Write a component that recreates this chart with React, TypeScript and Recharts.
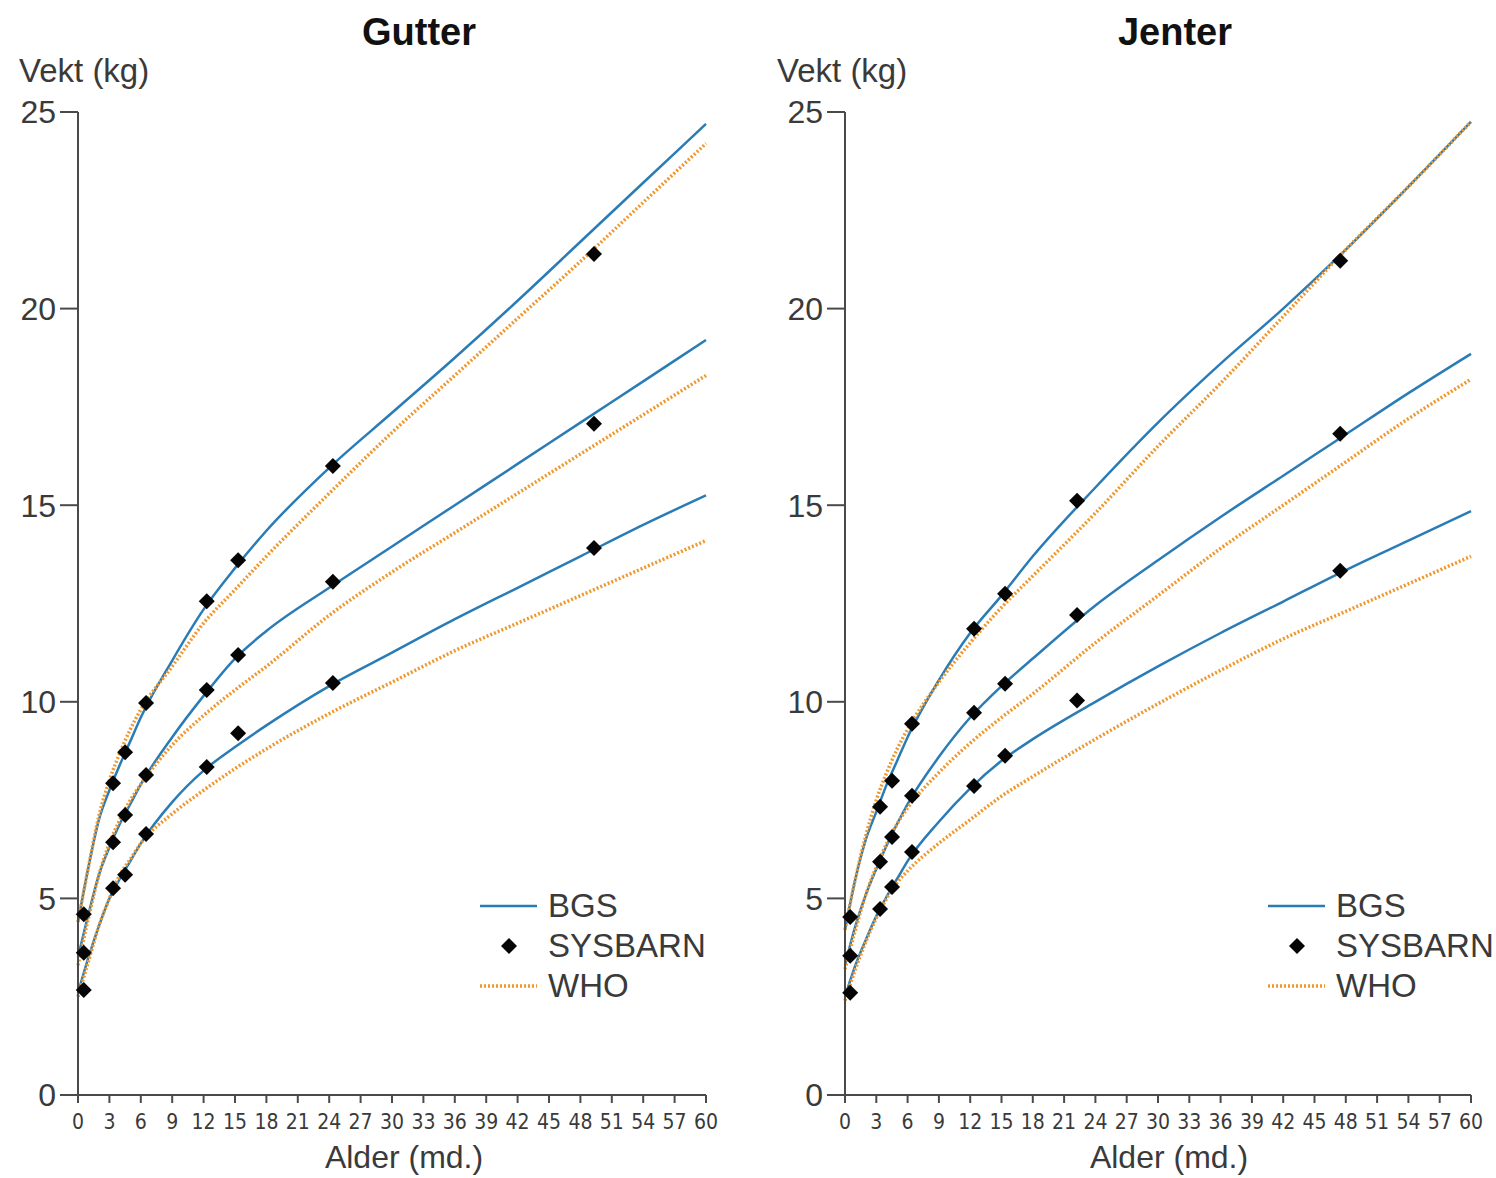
import React from 'react'
import { ComposedChart, Line, Scatter, XAxis, YAxis, Legend } from 'recharts'

const ageTicks = [0, 3, 6, 9, 12, 15, 18, 21, 24, 27, 30, 33, 36, 39, 42, 45, 48, 51, 54, 57, 60]
const weightTicks = [0, 5, 10, 15, 20, 25]

// ages (months) the reference curves are read at
const curveAges = [0, 1, 2, 3, 4, 5, 6, 9, 12, 15, 18, 24, 30, 36, 42, 48, 54, 60]

// Gutter
const boysBgsHigh = [4.4, 5.8, 7.0, 7.75, 8.4, 9.0, 9.6, 11.05, 12.35, 13.4, 14.35, 15.95, 17.35, 18.75, 20.2, 21.7, 23.2, 24.7]
const boysBgsMid = [3.5, 4.6, 5.6, 6.3, 6.9, 7.4, 7.9, 9.1, 10.15, 11.1, 11.8, 12.9, 13.95, 15.0, 16.05, 17.1, 18.15, 19.2]
const boysBgsLow = [2.6, 3.5, 4.3, 5.0, 5.5, 5.95, 6.4, 7.45, 8.25, 8.85, 9.4, 10.4, 11.25, 12.1, 12.9, 13.7, 14.5, 15.25]
const boysWhoHigh = [4.4, 5.8, 7.1, 8.0, 8.7, 9.3, 9.8, 10.9, 12.0, 12.85, 13.7, 15.3, 16.85, 18.3, 19.75, 21.2, 22.7, 24.2]
const boysWhoMid = [3.3, 4.5, 5.6, 6.4, 7.0, 7.5, 7.9, 8.9, 9.65, 10.3, 10.9, 12.2, 13.3, 14.3, 15.3, 16.3, 17.3, 18.3]
const boysWhoLow = [2.5, 3.4, 4.3, 5.0, 5.6, 6.0, 6.4, 7.15, 7.75, 8.3, 8.8, 9.7, 10.5, 11.3, 12.0, 12.7, 13.4, 14.1]

const boysVisitAges = [0.55, 3.35, 4.5, 6.5, 12.3, 15.3, 24.35, 49.3]
const boysSysHigh = [4.6, 7.93, 8.72, 9.97, 12.56, 13.6, 16.0, 21.39]
const boysSysMid = [3.62, 6.43, 7.12, 8.14, 10.3, 11.19, 13.05, 17.07]
const boysSysLow = [2.67, 5.26, 5.6, 6.64, 8.34, 9.2, 10.48, 13.91]

// Jenter
const girlsBgsHigh = [4.2, 5.5, 6.5, 7.2, 7.9, 8.5, 9.1, 10.55, 11.75, 12.7, 13.7, 15.45, 17.1, 18.6, 20.0, 21.5, 23.1, 24.75]
const girlsBgsMid = [3.3, 4.3, 5.1, 5.75, 6.35, 6.9, 7.4, 8.6, 9.6, 10.4, 11.1, 12.45, 13.6, 14.7, 15.75, 16.8, 17.85, 18.85]
const girlsBgsLow = [2.5, 3.3, 3.95, 4.55, 5.05, 5.5, 5.95, 6.95, 7.8, 8.5, 9.05, 10.0, 10.9, 11.75, 12.55, 13.35, 14.1, 14.85]
const girlsWhoHigh = [4.2, 5.5, 6.6, 7.5, 8.2, 8.8, 9.3, 10.5, 11.5, 12.4, 13.2, 14.8, 16.5, 18.1, 19.8, 21.5, 23.1, 24.75]
const girlsWhoMid = [3.2, 4.2, 5.1, 5.8, 6.4, 6.9, 7.3, 8.2, 8.95, 9.6, 10.2, 11.5, 12.7, 13.9, 15.0, 16.1, 17.2, 18.2]
const girlsWhoLow = [2.4, 3.2, 3.9, 4.5, 5.0, 5.4, 5.7, 6.4, 7.0, 7.6, 8.1, 9.05, 9.95, 10.8, 11.6, 12.3, 13.0, 13.7]

const girlsVisitAges = [0.5, 3.36, 4.51, 6.42, 12.37, 15.34, 22.24, 47.46]
const girlsSysHigh = [4.53, 7.33, 7.99, 9.44, 11.86, 12.75, 15.11, 21.22]
const girlsSysMid = [3.54, 5.93, 6.56, 7.61, 9.72, 10.46, 12.21, 16.82]
const girlsSysLow = [2.6, 4.73, 5.29, 6.18, 7.86, 8.63, 10.03, 13.33]

const BLUE = '#2a7cb6'
const ORANGE = '#ee982f'
const AXIS = '#4a4a4a'
const TEXT = '#3a3a3a'
const FONT = '"Liberation Sans", Arial, sans-serif'

const zip = (ages: number[], vals: number[]) => ages.map((m, i) => ({ m, kg: vals[i] }))

function Diamond(props: any) {
  const { cx, cy } = props
  if (cx == null || cy == null) return null
  const r = 8
  return <path d={`M${cx},${cy - r}L${cx + r},${cy}L${cx},${cy + r}L${cx - r},${cy}Z`} fill="#050505" />
}

function LegendBox() {
  const row = { display: 'flex', alignItems: 'center', height: 40 } as const
  const label = { fontSize: 33, color: TEXT, fontFamily: FONT, lineHeight: '40px' }
  return (
    <div>
      <div style={row}>
        <svg width={68} height={12}><line x1={0} y1={6} x2={57} y2={6} stroke={BLUE} strokeWidth={2.5} /></svg>
        <span style={label}>BGS</span>
      </div>
      <div style={row}>
        <svg width={68} height={18}><path d="M29,1L37,9L29,17L21,9Z" fill="#050505" /></svg>
        <span style={label}>SYSBARN</span>
      </div>
      <div style={row}>
        <svg width={68} height={12}><line x1={0} y1={6} x2={57} y2={6} stroke={ORANGE} strokeWidth={3.5} strokeDasharray="2 2" /></svg>
        <span style={label}>WHO</span>
      </div>
    </div>
  )
}

interface PanelProps {
  left: number
  width: number
  plotWidth: number
  bgs: number[][]
  who: number[][]
  visitAges: number[]
  sys: number[][]
  legendLeft: number
}

function Panel({ left, width, plotWidth, bgs, who, visitAges, sys, legendLeft }: PanelProps) {
  return (
    <div style={{ position: 'absolute', left, top: 0 }}>
      <ComposedChart
        width={width}
        height={1178}
        margin={{ top: 112, right: width - 78 - plotWidth, bottom: 43, left: 0 }}
      >
        <XAxis
          type="number"
          dataKey="m"
          domain={[0, 60]}
          ticks={ageTicks}
          interval={0}
          height={40}
          stroke={AXIS}
          strokeWidth={2}
          tickSize={8}
          tickMargin={11}
          tick={{ fontSize: 21, fill: TEXT, fontFamily: '"DejaVu Sans Condensed", "Liberation Sans Narrow", sans-serif' }}
        />
        <YAxis
          type="number"
          dataKey="kg"
          domain={[0, 25]}
          ticks={weightTicks}
          interval={0}
          width={78}
          stroke={AXIS}
          strokeWidth={2}
          tickSize={18}
          tickMargin={4}
          tick={{ fontSize: 32, fill: TEXT, fontFamily: FONT }}
        />
        {bgs.map((vals, i) => (
          <Line
            key={`bgs${i}`}
            data={zip(curveAges, vals)}
            dataKey="kg"
            type="monotone"
            stroke={BLUE}
            strokeWidth={2.5}
            dot={false}
            activeDot={false}
            legendType="none"
            isAnimationActive={false}
          />
        ))}
        {who.map((vals, i) => (
          <Line
            key={`who${i}`}
            data={zip(curveAges, vals)}
            dataKey="kg"
            type="monotone"
            stroke={ORANGE}
            strokeWidth={3.5}
            strokeDasharray="2 2"
            dot={false}
            activeDot={false}
            legendType="none"
            isAnimationActive={false}
          />
        ))}
        {sys.map((vals, i) => (
          <Scatter
            key={`sys${i}`}
            data={zip(visitAges, vals)}
            dataKey="kg"
            shape={Diamond}
            legendType="none"
            isAnimationActive={false}
          />
        ))}
        <Legend
          layout="vertical"
          align="center"
          verticalAlign="middle"
          content={() => <LegendBox />}
          wrapperStyle={{ position: 'absolute', left: legendLeft, top: 886, width: 260 }}
        />
      </ComposedChart>
    </div>
  )
}

const textStyle = (extra: React.CSSProperties): React.CSSProperties => ({
  position: 'absolute',
  fontFamily: FONT,
  color: TEXT,
  lineHeight: 1,
  whiteSpace: 'nowrap',
  ...extra,
})

export default function App() {
  return (
    <div style={{ position: 'absolute', left: 0, top: 0, width: 1496, height: 1178, background: '#fff', overflow: 'hidden' }}>
      <div style={textStyle({ left: 419, top: 13, fontSize: 38, fontWeight: 700, color: '#111', transform: 'translateX(-50%)' })}>Gutter</div>
      <div style={textStyle({ left: 1175, top: 13, fontSize: 38, fontWeight: 700, color: '#111', transform: 'translateX(-50%)' })}>Jenter</div>
      <div style={textStyle({ left: 19, top: 54, fontSize: 33 })}>Vekt (kg)</div>
      <div style={textStyle({ left: 777, top: 54, fontSize: 33 })}>Vekt (kg)</div>

      <Panel
        left={0}
        width={740}
        plotWidth={628}
        bgs={[boysBgsHigh, boysBgsMid, boysBgsLow]}
        who={[boysWhoHigh, boysWhoMid, boysWhoLow]}
        visitAges={boysVisitAges}
        sys={[boysSysHigh, boysSysMid, boysSysLow]}
        legendLeft={480}
      />
      <Panel
        left={767}
        width={729}
        plotWidth={626}
        bgs={[girlsBgsHigh, girlsBgsMid, girlsBgsLow]}
        who={[girlsWhoHigh, girlsWhoMid, girlsWhoLow]}
        visitAges={girlsVisitAges}
        sys={[girlsSysHigh, girlsSysMid, girlsSysLow]}
        legendLeft={501}
      />

      <div style={textStyle({ left: 404, top: 1141, fontSize: 32, transform: 'translateX(-50%)' })}>Alder (md.)</div>
      <div style={textStyle({ left: 1169, top: 1141, fontSize: 32, transform: 'translateX(-50%)' })}>Alder (md.)</div>
    </div>
  )
}
